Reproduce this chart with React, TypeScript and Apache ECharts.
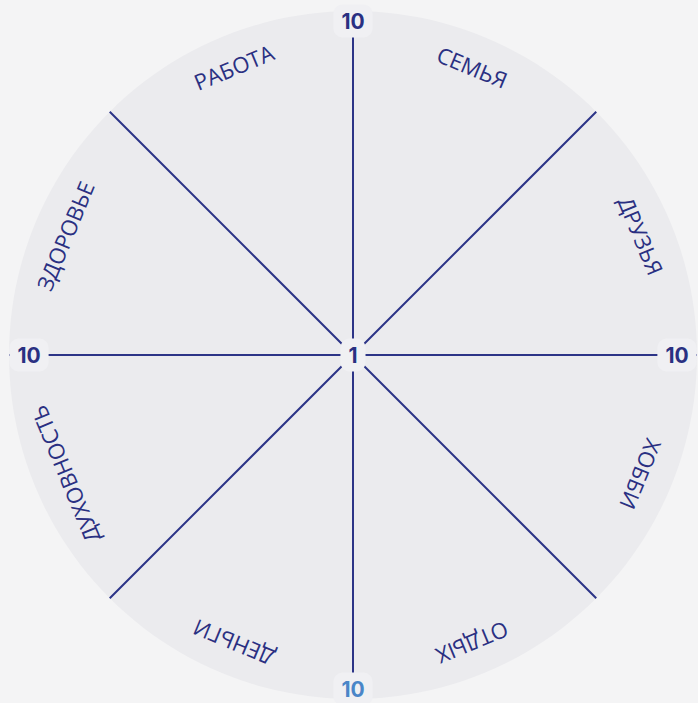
import React, { useEffect, useRef } from "react";
import * as echarts from "echarts";

// Sectors, clockwise from the top spoke
const categories = ["СЕМЬЯ", "ДРУЗЬЯ", "ХОББИ", "ОТДЫХ", "ДЕНЬГИ", "ДУХОВНОСТЬ", "ЗДОРОВЬЕ", "РАБОТА"];
// Scale of every spoke
const scaleMin = 1;
const scaleMax = 10;
// Spokes where the max value is labelled (degrees clockwise from top)
const maxLabelAngles = [0, 90, 180, 270];
const maxLabelTexts = ["10", "10", "10", "10"];
const maxLabelHighlight = [false, false, true, false];

const NAVY = "#2a3082";
const LINE = "#2c3487";
const HIGHLIGHT = "#4a86c8";
const PAGE_BG = "#f4f4f5";
const WHEEL_BG = "#ebebee";
const BOX_BG = "#f0f0f3";

const CX = 353;
const CY = 355;
const R = 344;

export default function App() {
  const ref = useRef<HTMLDivElement>(null);

  useEffect(() => {
    if (!ref.current) return;
    const chart = echarts.init(ref.current, undefined, { renderer: "svg" });

    const sectorWidth = 360 / categories.length;
    const catData = categories.map((c, i) => [scaleMax, sectorWidth * (i + 0.5), c]);
    const maxData = maxLabelAngles.map((a, i) => [scaleMax, a, maxLabelTexts[i], maxLabelHighlight[i] ? 1 : 0]);
    const minData = [[scaleMin, 0, String(scaleMin)]];

    const polarAngle = (params: any, p: number[]) => {
      const cs = params.coordSys;
      return Math.atan2(cs.cy - p[1], p[0] - cs.cx);
    };

    const numFont = "700 21px Inter, 'Noto Sans', sans-serif";

    chart.setOption({
      animation: false,
      backgroundColor: PAGE_BG,
      graphic: [
        {
          type: "circle",
          z: 0,
          silent: true,
          shape: { cx: CX, cy: CY, r: R },
          style: { fill: WHEEL_BG },
        },
      ],
      polar: { center: [CX, CY], radius: R },
      angleAxis: {
        type: "value",
        min: 0,
        max: 360,
        interval: 45,
        startAngle: 90,
        clockwise: true,
        z: 2,
        axisLine: { show: false },
        axisTick: { show: false },
        axisLabel: { show: false },
        splitLine: { show: true, lineStyle: { color: LINE, width: 2 } },
      },
      radiusAxis: {
        type: "value",
        min: scaleMin,
        max: scaleMax,
        z: 2,
        axisLine: { show: false },
        axisTick: { show: false },
        axisLabel: { show: false },
        splitLine: { show: false },
      },
      series: [
        {
          type: "custom",
          coordinateSystem: "polar",
          z: 5,
          silent: true,
          data: catData,
          renderItem: (params: any, api: any) => {
            const p = api.coord([api.value(0), api.value(1)]);
            const th = polarAngle(params, p);
            const cs = params.coordSys;
            const d = Math.hypot(p[0] - cs.cx, p[1] - cs.cy) - 32;
            return {
              type: "text",
              x: cs.cx + d * Math.cos(th),
              y: cs.cy - d * Math.sin(th),
              rotation: th - Math.PI / 2,
              style: {
                text: categories[params.dataIndex],
                x: 0,
                y: 0,
                align: "center",
                verticalAlign: "middle",
                fill: NAVY,
                font: "400 22px 'Open Sans', 'Noto Sans', sans-serif",
              },
            };
          },
        },
        {
          type: "custom",
          coordinateSystem: "polar",
          z: 6,
          silent: true,
          data: maxData,
          renderItem: (params: any, api: any) => {
            const p = api.coord([api.value(0), api.value(1)]);
            const th = polarAngle(params, p);
            const cs = params.coordSys;
            const c = Math.cos(th);
            const d = Math.hypot(p[0] - cs.cx, p[1] - cs.cy) - 10 - 10 * c * c;
            const hi = maxLabelHighlight[params.dataIndex];
            return {
              type: "text",
              x: cs.cx + d * Math.cos(th),
              y: cs.cy - d * Math.sin(th),
              style: {
                text: maxLabelTexts[params.dataIndex],
                x: 0,
                y: 0,
                align: "center",
                verticalAlign: "middle",
                fill: hi ? HIGHLIGHT : NAVY,
                font: numFont,
                backgroundColor: BOX_BG,
                padding: [6, 8, 6, 8],
                borderRadius: 9,
              },
            };
          },
        },
        {
          type: "custom",
          coordinateSystem: "polar",
          z: 6,
          silent: true,
          data: minData,
          renderItem: (params: any, api: any) => {
            const p = api.coord([api.value(0), api.value(1)]);
            return {
              type: "text",
              x: p[0],
              y: p[1],
              style: {
                text: String(scaleMin),
                x: 0,
                y: 0,
                align: "center",
                verticalAlign: "middle",
                fill: NAVY,
                font: numFont,
                backgroundColor: BOX_BG,
                padding: [6, 8, 6, 8],
                borderRadius: 9,
              },
            };
          },
        },
      ],
    });

    return () => chart.dispose();
  }, []);

  return (
    <div
      ref={ref}
      style={{ position: "fixed", left: 0, top: 0, width: 698, height: 703 }}
    />
  );
}
